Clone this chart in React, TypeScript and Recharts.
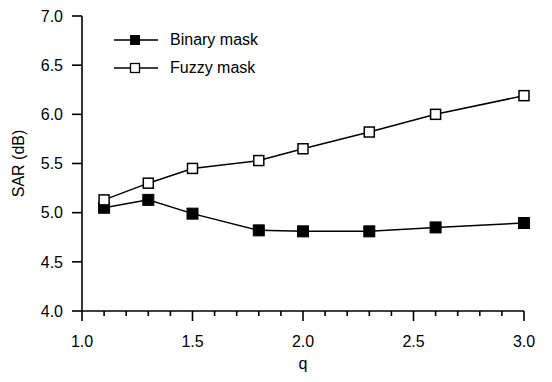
import React from 'react';
import { LineChart, Line, XAxis, YAxis } from 'recharts';

const qValues = [1.1, 1.3, 1.5, 1.8, 2.0, 2.3, 2.6, 3.0];
const binaryMask = [5.05, 5.13, 4.99, 4.82, 4.81, 4.81, 4.85, 4.895];
const fuzzyMask = [5.13, 5.3, 5.45, 5.53, 5.65, 5.82, 6.0, 6.19];
const xTicks = [1.0, 1.1, 1.2, 1.3, 1.4, 1.5, 1.6, 1.7, 1.8, 1.9, 2.0, 2.1, 2.2, 2.3, 2.4, 2.5, 2.6, 2.7, 2.8, 2.9, 3.0];
const yTicks = [4.0, 4.5, 5.0, 5.5, 6.0, 6.5, 7.0];
const seriesNames = ['Binary mask', 'Fuzzy mask'];

const data = qValues.map((q, i) => ({ q, binary: binaryMask[i], fuzzy: fuzzyMask[i] }));

const FONT = '"Liberation Sans", Arial, sans-serif';
const FS = 16;

const XTick = (props: any) => {
  const { x, y, payload } = props;
  const v = payload.value as number;
  const major = Math.abs(v * 2 - Math.round(v * 2)) < 1e-6;
  const axisY = y - 5;
  return (
    <g>
      <rect x={x - 0.8} y={axisY} width={1.6} height={major ? 10 : 5} fill="#000" />
      {major && (
        <text x={x} y={axisY + 36} textAnchor="middle" fill="#000" fontSize={FS} fontFamily={FONT}>
          {v.toFixed(1)}
        </text>
      )}
    </g>
  );
};

const YTick = (props: any) => {
  const { x, y, payload } = props;
  const v = payload.value as number;
  const axisX = x + 19;
  return (
    <g>
      <rect x={axisX - 10} y={y - 0.8} width={10} height={1.6} fill="#000" />
      <text x={x} y={y + 5.8} textAnchor="end" fill="#000" fontSize={FS} fontFamily={FONT}>
        {v.toFixed(1)}
      </text>
    </g>
  );
};

const FilledDot = (props: any) => {
  const { cx, cy } = props;
  if (cx == null || cy == null) return null;
  return <rect x={cx - 5.5} y={cy - 5.5} width={11} height={11} fill="#000" stroke="#000" strokeWidth={1} />;
};

const OpenDot = (props: any) => {
  const { cx, cy } = props;
  if (cx == null || cy == null) return null;
  return <rect x={cx - 5} y={cy - 5} width={10} height={10} fill="#fff" stroke="#000" strokeWidth={1.5} />;
};

const LegendBox = () => (
  <div style={{ position: 'absolute', left: 114, top: 26.5, fontFamily: FONT, fontSize: FS, color: '#000' }}>
    {seriesNames.map((name, i) => (
      <div key={name} style={{ display: 'flex', alignItems: 'center', height: 27.5 }}>
        <svg width={52} height={14} style={{ display: 'block' }}>
          <line x1={0} y1={7} x2={44} y2={7} stroke="#000" strokeWidth={1.5} />
          {i === 0 ? (
            <rect x={16.5} y={2.5} width={9} height={9} fill="#000" stroke="#000" />
          ) : (
            <rect x={16.5} y={2.5} width={9} height={9} fill="#fff" stroke="#000" strokeWidth={1.3} />
          )}
        </svg>
        <span style={{ marginLeft: 4 }}>{name}</span>
      </div>
    ))}
  </div>
);

export default function App() {
  return (
    <div style={{ position: 'absolute', left: 0, top: 0, width: 552, height: 382, background: '#fff' }}>
      <LineChart width={552} height={382} data={data} margin={{ top: 16, right: 28, bottom: 0, left: 0 }} style={{ fontFamily: FONT }}>
        <XAxis
          dataKey="q"
          type="number"
          domain={[1, 3]}
          ticks={xTicks}
          interval={0}
          height={71}
          tickSize={5}
          tickMargin={0}
          tickLine={false}
          tick={<XTick />}
          axisLine={{ stroke: '#000', strokeWidth: 1.6 }}
          label={{ value: 'q', position: 'insideBottom', offset: 13, fill: '#000', fontSize: FS, fontFamily: FONT }}
        />
        <YAxis
          type="number"
          domain={[4, 7]}
          ticks={yTicks}
          interval={0}
          width={82}
          tickSize={10}
          tickMargin={9}
          tickLine={false}
          tick={<YTick />}
          axisLine={{ stroke: '#000', strokeWidth: 1.6 }}
          label={{ value: 'SAR (dB)', angle: -90, position: 'insideLeft', offset: 18, fill: '#000', fontSize: FS, fontFamily: FONT, style: { textAnchor: 'middle' } }}
        />
        <Line type="linear" dataKey="binary" name={seriesNames[0]} stroke="#000" strokeWidth={1.5} dot={<FilledDot />} activeDot={false} isAnimationActive={false} />
        <Line type="linear" dataKey="fuzzy" name={seriesNames[1]} stroke="#000" strokeWidth={1.5} dot={<OpenDot />} activeDot={false} isAnimationActive={false} />
      </LineChart>
      <LegendBox />
    </div>
  );
}
